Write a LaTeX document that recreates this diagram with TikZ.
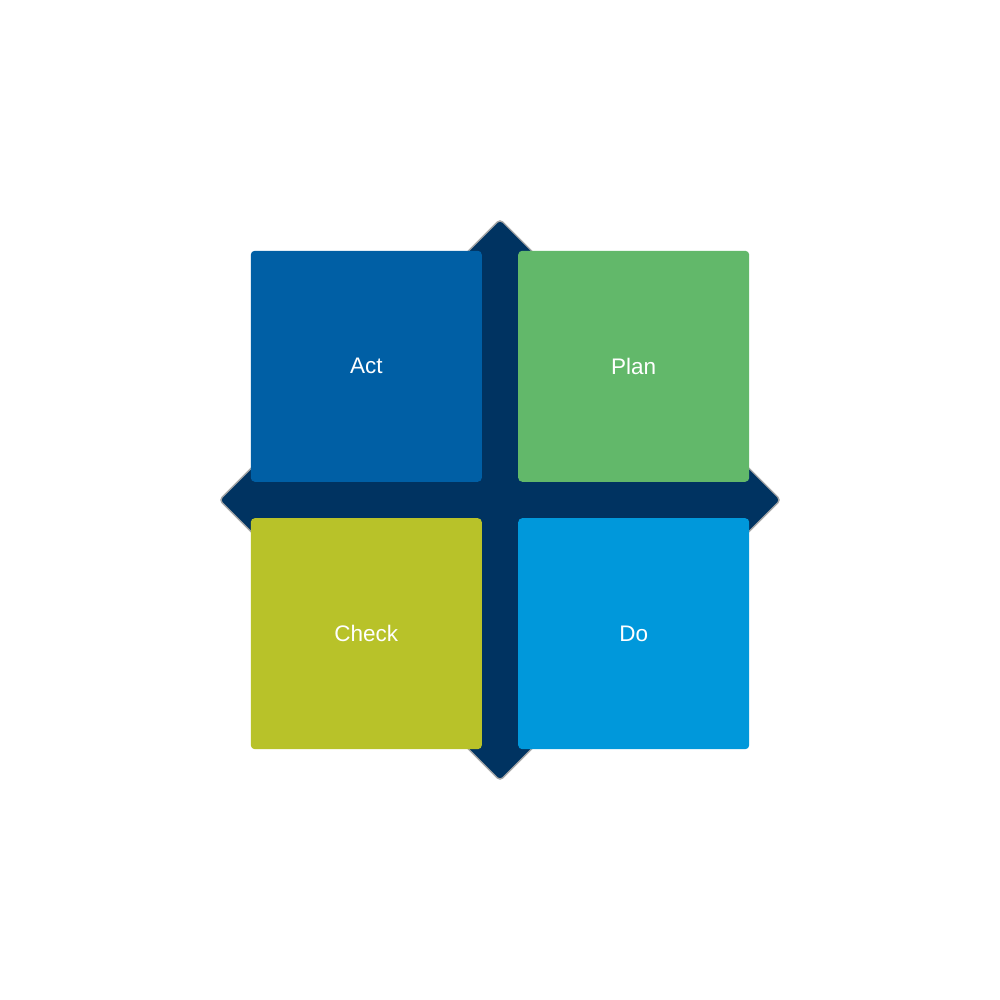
\documentclass[tikz,border=0pt]{standalone}
\usepackage{fontspec}
\setmainfont{Liberation Sans}
\usepackage{xcolor}
\usetikzlibrary{positioning, shapes.geometric}
\definecolor{navy}{HTML}{003361}
\definecolor{actblue}{HTML}{005FA5}
\definecolor{plangreen}{HTML}{62B86A}
\definecolor{checklime}{HTML}{B8C229}
\definecolor{doblue}{HTML}{0098DB}
\tikzset{
    cross/.style={diamond, aspect=1, draw=gray!70, line width=0.4pt, fill=navy, inner sep=0pt, minimum width=5.62cm, minimum height=5.62cm, rounded corners=0.04cm},
    tile/.style={rectangle, draw=none, inner sep=0pt, minimum size=2.31cm, rounded corners=0.04cm, text=white, font=\fontsize{6.4}{7.5}\selectfont}
}

\begin{document}
\begin{tikzpicture}
    \useasboundingbox (0,0) rectangle (10,10);
    \node[cross] (cycle) at (5,5) {};

    % Quadrants
    \node[tile, fill=actblue, above left=0.175cm and 0.175cm of cycle.center] (act) {Act};
    \node[tile, fill=plangreen, above right=0.175cm and 0.175cm of cycle.center] (plan) {Plan};
    \node[tile, fill=checklime, below left=0.175cm and 0.175cm of cycle.center] (check) {Check};
    \node[tile, fill=doblue, below right=0.175cm and 0.175cm of cycle.center] (do) {Do};
\end{tikzpicture}
\end{document}
